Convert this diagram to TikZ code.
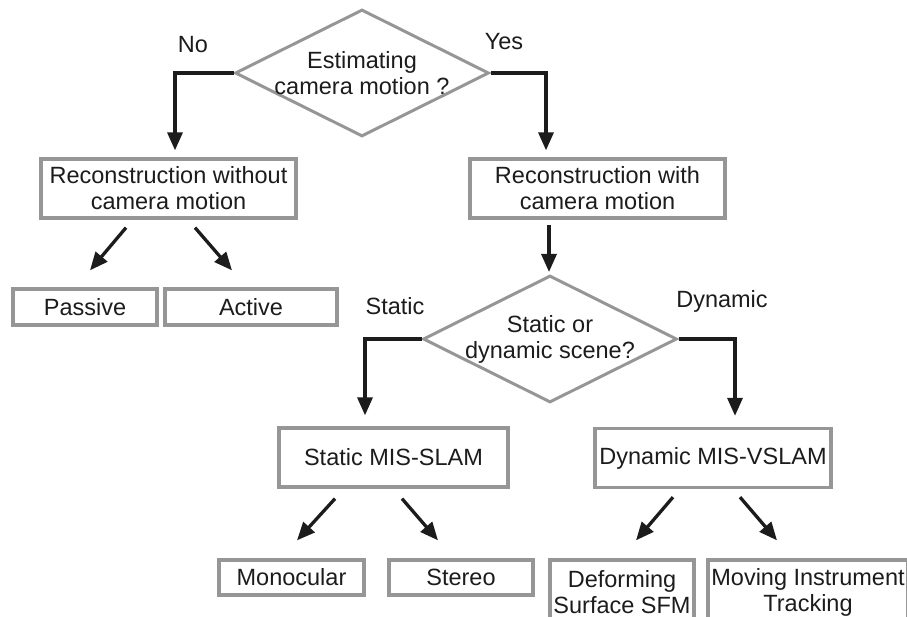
\documentclass[tikz,border=0pt]{standalone}
\usepackage{fontspec}
\setmainfont{Liberation Sans}
\usetikzlibrary{arrows.meta, calc, shapes.geometric}
\definecolor{framegray}{RGB}{150,150,150}
\definecolor{inkblack}{RGB}{28,28,28}

\begin{document}
\begin{tikzpicture}[x=1pt, y=-1pt,
font=\fontsize{23.5}{26}\selectfont,
every node/.style = {text=inkblack, align=center, inner sep=0pt},
box/.style = {draw=framegray, line width=3.3pt, minimum height=59pt},
leaf/.style = {box, minimum height=36pt},
decision/.style = {shape=diamond, draw=framegray, line width=3pt,
                   minimum width=254pt, minimum height=127pt},
arrow/.style = {draw=inkblack, line width=3.3pt,
                -{Triangle[length=18pt, width=15pt]}},
                    ]
%---
\clip (0,0) rectangle (907,617);

\node (est) [decision] at (362,73) {};
\node (est_text) at (est) {Estimating\\camera motion ?};

\node (rec_no) [box, minimum width=255pt] at (168.5,188.5) {Reconstruction without\\camera motion};
\node (rec_cam) [box, minimum width=255pt] at (597.5,188.5) {Reconstruction with\\camera motion};

\node (passive) [leaf, minimum width=144pt] at (85,307) {Passive};
\node (active) [leaf, minimum width=172pt] at (251,307) {Active};

\node (scene) [decision] at (550,339) {};
\node (scene_text) at (scene) {Static or\\dynamic scene?};

\node (static) [box, minimum width=229pt] at (393.5,457.5) {Static MIS-SLAM};
\node (dynamic) [box, minimum width=236pt] at (713,458) {Dynamic MIS-VSLAM};

\node (mono) [leaf, minimum height=35pt, minimum width=145pt] at (291.5,577.5) {Monocular};
\node (stereo) [leaf, minimum height=35pt, minimum width=144pt] at (461,577.5) {Stereo};
\node (deform) [box, minimum height=64pt, minimum width=144pt] at (622,592) {Deforming\\Surface SFM};
\node (moving) [box, minimum height=64pt, minimum width=200pt] at (808,592) {Moving Instrument\\Tracking};

\node (no_label) [anchor=base] at (193,53) {No};
\node (yes_label) [anchor=base] at (504,50) {Yes};
\node (static_label) [anchor=base] at (395,315) {Static};
\node (dynamic_label) [anchor=base] at (722,308) {Dynamic};

\draw[arrow] (est.west) -| ($(rec_no.north)+(6.5,-7)$);
\draw[arrow] (est.east) -| ($(rec_cam.north)+(-51.5,-7)$);
\draw[arrow] ($(scene.north |- rec_cam.south)+(-1,5)$) -- ($(scene.north)+(-1,-2)$);
\draw[arrow] (scene.west) -| ($(static.north)+(-28.5,-11)$);
\draw[arrow] (scene.east) -| ($(dynamic.north)+(22,-11)$);

\path[every edge/.style={arrow}]
        ($(rec_no.south)+(-42.5,8)$) edge ($(passive.north)+(5,-17)$)
        ($(rec_no.south)+(26.5,8)$)  edge ($(active.north)+(-19,-17)$)
        ($(static.south)+(-58.5,10)$) edge ($(mono.north)+(5.5,-18)$)
        ($(static.south)+(8.5,10)$)   edge ($(stereo.north)+(-23,-18)$)
        ($(dynamic.south)+(-40,8)$)  edge ($(deform.north)+(14,-18)$)
        ($(dynamic.south)+(27,8)$)   edge ($(moving.north)+(-31,-18)$);

\end{tikzpicture}
\end{document}
